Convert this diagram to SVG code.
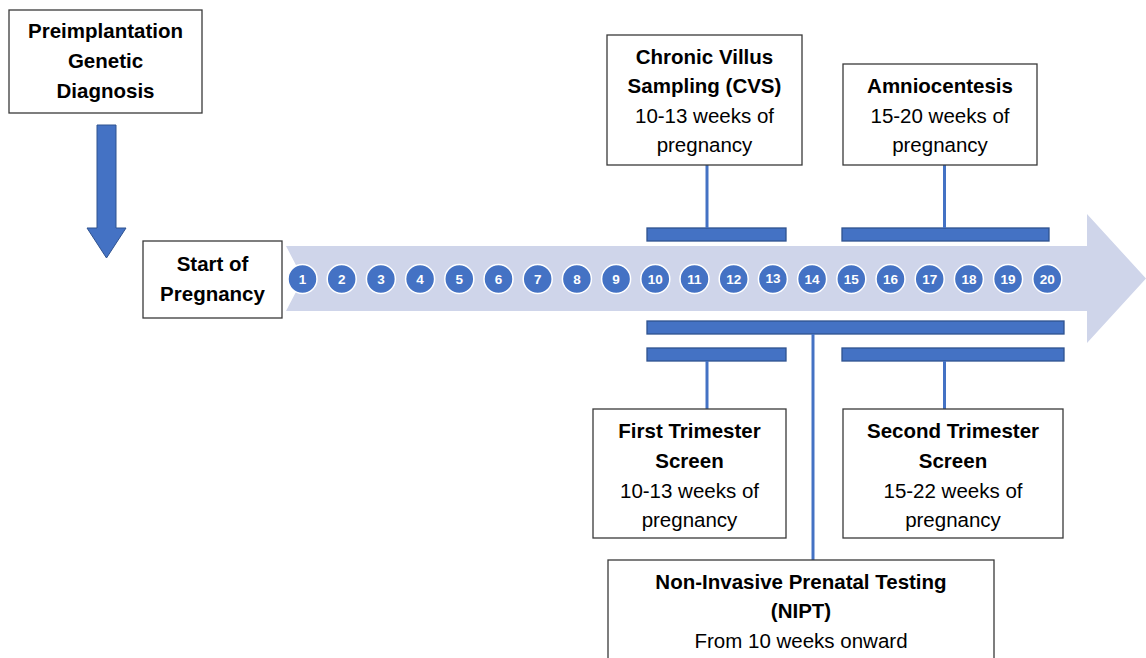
<svg xmlns="http://www.w3.org/2000/svg" width="1146" height="658" viewBox="0 0 1146 658">
<style>
.box{fill:#fff;stroke:#3a3a3a;stroke-width:1.3}
.t{font-family:"Liberation Sans",Arial,sans-serif;font-size:20.5px;fill:#000;text-anchor:middle}
.b{font-weight:bold}
.bar{fill:#4472C4;stroke:#2F528F;stroke-width:1.3}
.ln{stroke:#4472C4;stroke-width:3;fill:none}
.c{fill:#4472C4;stroke:#fff;stroke-width:1.5}
.n{font-family:"Liberation Sans",Arial,sans-serif;font-size:13.5px;fill:#fff;text-anchor:middle;font-weight:bold}
</style>
<g id="timeline-arrow">
<polygon points="286,246 1087,246 1087,214 1146,278.5 1087,343 1087,311 286,311 303,278.5" fill="#CFD5EA"/>
</g>
<g id="weeks">
<circle class="c" cx="302.5" cy="279" r="14.5"/><text class="n" x="302.5" y="284">1</text>
<circle class="c" cx="341.7" cy="279" r="14.5"/><text class="n" x="341.7" y="284">2</text>
<circle class="c" cx="380.9" cy="279" r="14.5"/><text class="n" x="380.9" y="284">3</text>
<circle class="c" cx="420.1" cy="279" r="14.5"/><text class="n" x="420.1" y="284">4</text>
<circle class="c" cx="459.3" cy="279" r="14.5"/><text class="n" x="459.3" y="284">5</text>
<circle class="c" cx="498.5" cy="279" r="14.5"/><text class="n" x="498.5" y="284">6</text>
<circle class="c" cx="537.7" cy="279" r="14.5"/><text class="n" x="537.7" y="284">7</text>
<circle class="c" cx="576.9" cy="279" r="14.5"/><text class="n" x="576.9" y="284">8</text>
<circle class="c" cx="616.1" cy="279" r="14.5"/><text class="n" x="616.1" y="284">9</text>
<circle class="c" cx="655.3" cy="279" r="14.5"/><text class="n" x="655.3" y="284">10</text>
<circle class="c" cx="694.5" cy="279" r="14.5"/><text class="n" x="694.5" y="284">11</text>
<circle class="c" cx="733.7" cy="279" r="14.5"/><text class="n" x="733.7" y="284">12</text>
<circle class="c" cx="772.9" cy="279" r="14.5"/><text class="n" x="772.9" y="282.5">13</text>
<circle class="c" cx="812.1" cy="279" r="14.5"/><text class="n" x="812.1" y="284">14</text>
<circle class="c" cx="851.3" cy="279" r="14.5"/><text class="n" x="851.3" y="284">15</text>
<circle class="c" cx="890.5" cy="279" r="14.5"/><text class="n" x="890.5" y="284">16</text>
<circle class="c" cx="929.7" cy="279" r="14.5"/><text class="n" x="929.7" y="284">17</text>
<circle class="c" cx="968.9" cy="279" r="14.5"/><text class="n" x="968.9" y="284">18</text>
<circle class="c" cx="1008.1" cy="279" r="14.5"/><text class="n" x="1008.1" y="284">19</text>
<circle class="c" cx="1047.3" cy="279" r="14.5"/><text class="n" x="1047.3" y="284">20</text>
</g>
<g id="connectors">
<polygon points="97,125 116,125 116,228 126,228 106.5,258 87,228 97,228" fill="#4472C4" stroke="#2F528F" stroke-width="1"/>
<rect class="bar" x="647" y="228" width="139" height="13"/>
<rect class="bar" x="842" y="228" width="207" height="13"/>
<rect class="bar" x="647" y="321" width="417" height="13"/>
<rect class="bar" x="647" y="348" width="139" height="13"/>
<rect class="bar" x="842" y="348" width="222" height="13"/>
<line class="ln" x1="707" y1="165" x2="707" y2="228"/>
<line class="ln" x1="944.5" y1="165" x2="944.5" y2="228"/>
<line class="ln" x1="707" y1="361" x2="707" y2="409"/>
<line class="ln" x1="944.5" y1="361" x2="944.5" y2="409"/>
<line class="ln" x1="813" y1="334" x2="813" y2="560"/>
</g>
<g id="pgd">
<rect class="box" x="9" y="10" width="193" height="103"/>
<text class="t b" x="105.5" y="38">Preimplantation</text>
<text class="t b" x="105.5" y="68">Genetic</text>
<text class="t b" x="105.5" y="98">Diagnosis</text>
</g>
<g id="start">
<rect class="box" x="143" y="241" width="139" height="77"/>
<text class="t b" x="212.5" y="271">Start of</text>
<text class="t b" x="212.5" y="301">Pregnancy</text>
</g>
<g id="cvs">
<rect class="box" x="607" y="35" width="195" height="130"/>
<text class="t b" x="704.5" y="64">Chronic Villus</text>
<text class="t b" x="704.5" y="93">Sampling (CVS)</text>
<text class="t" x="704.5" y="123">10-13 weeks of</text>
<text class="t" x="704.5" y="152">pregnancy</text>
</g>
<g id="amnio">
<rect class="box" x="843" y="64" width="194" height="101"/>
<text class="t b" x="940" y="93">Amniocentesis</text>
<text class="t" x="940" y="123">15-20 weeks of</text>
<text class="t" x="940" y="152">pregnancy</text>
</g>
<g id="first">
<rect class="box" x="593" y="409" width="193" height="129"/>
<text class="t b" x="689.5" y="438">First Trimester</text>
<text class="t b" x="689.5" y="468">Screen</text>
<text class="t" x="689.5" y="498">10-13 weeks of</text>
<text class="t" x="689.5" y="527">pregnancy</text>
</g>
<g id="second">
<rect class="box" x="843" y="409" width="220" height="129"/>
<text class="t b" x="953" y="438">Second Trimester</text>
<text class="t b" x="953" y="468">Screen</text>
<text class="t" x="953" y="498">15-22 weeks of</text>
<text class="t" x="953" y="527">pregnancy</text>
</g>
<g id="nipt">
<rect class="box" x="608" y="560" width="386" height="110"/>
<text class="t b" x="801" y="589">Non-Invasive Prenatal Testing</text>
<text class="t b" x="801" y="618">(NIPT)</text>
<text class="t" x="801" y="648">From 10 weeks onward</text>
</g>
</svg>
